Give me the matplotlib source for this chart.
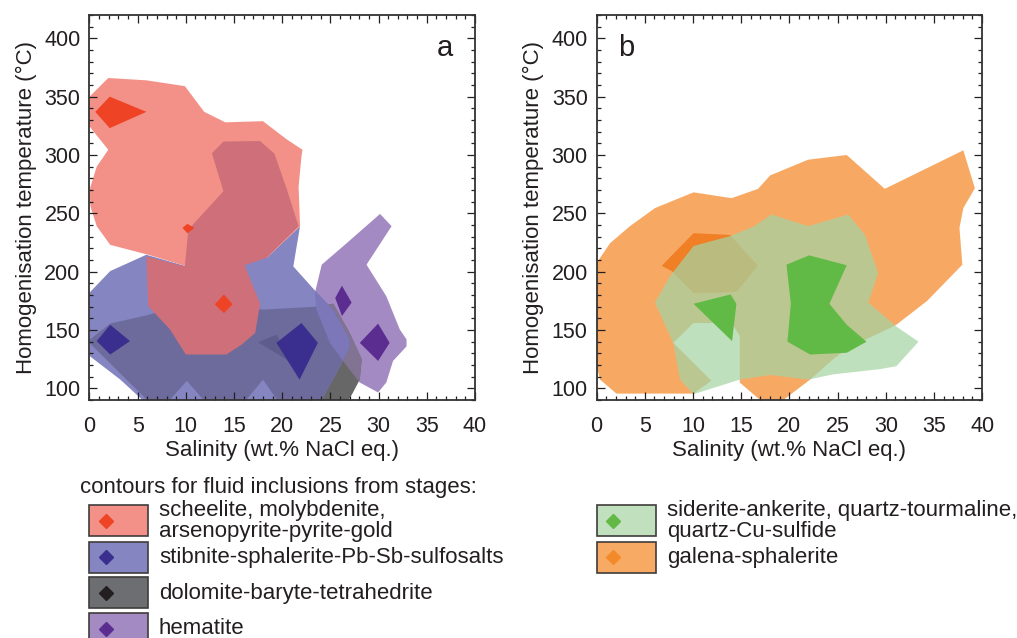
import matplotlib
matplotlib.use('Agg')
import matplotlib.pyplot as plt
from matplotlib.patches import Rectangle
from matplotlib.lines import Line2D

plt.rcParams['font.family'] = ['Liberation Sans', 'DejaVu Sans']

# ---------- panel a : contour polygons (salinity wt.%, temperature degC) ----------
# scheelite, molybdenite, arsenopyrite-pyrite-gold
sch_outer_sal = [0, 1.95, 5.9, 9.9, 11.9, 14.1, 18.0, 20.45, 22.1, 22.0, 21.7, 21.85,
                 18.4, 10.1, 6.1, 2.15, 0.75, 0.1, 0, 0.75, 1.95, 0]
sch_outer_temp = [350, 366, 364, 359, 337, 328, 329, 313.5, 304.5, 299, 273, 239,
                  212, 204.5, 214.5, 223, 239, 256, 270, 290, 304.5, 324.5]
sch_mid_sal = [13.9, 17.7, 19.2, 20.5, 21.7, 18.4, 16.1, 17.7, 17.2, 15.8, 14.2,
               10.0, 8.35, 6.1, 5.9, 9.9, 10.25, 13.9, 12.7]
sch_mid_temp = [311.5, 312, 301, 270, 239, 212, 205.5, 172.5, 147.5, 137.5, 129,
                129, 150.5, 170.5, 213, 204.5, 236, 269, 301.5]
sch_inner_sal = [[0.6, 2.1, 5.9, 2.1], [9.65, 10.15, 10.9, 10.15], [13.0, 13.95, 14.85, 13.95]]
sch_inner_temp = [[337, 350, 337, 323], [237.5, 241, 237.5, 233], [172, 180.5, 172, 164.5]]

# stibnite-sphalerite-Pb-Sb-sulfosalts
stb_outer_sal = [0, 2.15, 5.9, 10.1, 18.4, 21.85, 21.15, 23.6, 25.3, 27.0, 27.0, 26.0,
                 23.9, 5.9, 3.2, 0.05]
stb_outer_temp = [182, 200.5, 214.5, 204.5, 212, 239, 204.5, 182, 167.5, 142, 135, 119,
                  87, 87, 107.5, 127.5]
stb_inner_sal = [[0.75, 2.15, 4.2, 2.15], [19.4, 22.0, 23.7, 21.8]]
stb_inner_temp = [[140.5, 154.5, 140.5, 129], [139, 156, 139, 107.5]]

# dolomite-baryte-tetrahedrite
dol_outer_sal = [0, 2.15, 5.9, 10.1, 14.9, 18.0, 23.6, 25.3, 27.0, 28.25, 28.05, 27.35,
                 26.7, 19.75, 18.0, 15.95, 12.15, 10.1, 8.0, 6.1, 0]
dol_outer_temp = [141.5, 155.5, 162.5, 172, 169, 167.5, 170, 172.5, 147.5, 125, 107.5,
                  96.5, 87, 87, 107.5, 87, 87, 106.5, 87, 89, 139]
dol_inner_sal = [17.5, 19.4, 21.3, 20.4]
dol_inner_temp = [139.5, 146, 118, 125]

# hematite
hem_outer_sal = [24.1, 26.7, 30.15, 31.35, 28.75, 30.8, 32.2, 32.9, 32.9, 31.5, 30.8,
                 29.95, 28.05, 26.7, 24.95, 23.55, 23.4]
hem_outer_temp = [206, 224.5, 249.5, 239, 206, 179, 150.5, 142, 136, 123.5, 105, 96.5,
                  105, 119, 139, 167.5, 182]
hem_inner_sal = [[25.5, 26.2, 27.2, 26.2], [28.05, 29.95, 31.15, 29.95]]
hem_inner_temp = [[177.5, 188, 173.5, 162], [139, 155.5, 139, 123.5]]

# ---------- panel b ----------
# galena-sphalerite
gal_outer_sal = [0, 1.4, 3.45, 6.05, 10.05, 14.0, 16.75, 18.0, 21.95, 25.95, 29.9, 38.05,
                 39.25, 38.05, 37.65, 37.95, 34.3, 31.1, 29.4, 26.3, 24.55, 22.15, 19.2,
                 17.1, 14.85, 14.85, 14.0, 10.05, 7.95, 11.9, 10.05, 2.05, 0.35, 0]
gal_outer_temp = [207.5, 224.5, 239, 254.5, 268, 263, 271, 282.5, 296, 300, 271, 304,
                  271.5, 254.5, 237.5, 206, 175, 154.5, 147.5, 136, 125, 107.5, 89,
                  89, 105, 145, 156, 156, 139, 106.5, 95.5, 95.5, 107.5, 119]
gal_inner_sal = [6.75, 10.05, 13.85, 16.75, 14.5, 10.05, 7.8]
gal_inner_temp = [205, 233, 231.5, 205, 182.5, 181.5, 200.5]

# siderite-ankerite, quartz-tourmaline, quartz-Cu-sulfide
sid_outer_sal = [6.05, 7.6, 10.05, 13.85, 16.25, 18.15, 21.95, 26.1, 27.85, 29.2, 28.2,
                 31.1, 33.4, 31.1, 29.4, 24.55, 21.95, 18.0, 14.85, 10.05, 8.65, 7.95]
sid_outer_temp = [173.5, 196, 222, 230.5, 238.5, 249, 239, 249, 231.5, 199, 173.5,
                  153, 140, 119, 116.5, 112, 107.5, 111.5, 107.5, 95, 107.5, 139]
sid_inner_sal = [[10.05, 13.9, 14.5, 14.05],
                 [19.7, 22.05, 25.95, 24.15, 25.95, 28.0, 25.95, 22.15, 19.8, 20.15]]
sid_inner_temp = [[172.5, 180.5, 172.5, 140.5],
                  [206, 214, 205.5, 172.5, 154.5, 140, 130.5, 129, 140, 172.5]]

legend_a = ['scheelite, molybdenite,\narsenopyrite-pyrite-gold',
            'stibnite-sphalerite-Pb-Sb-sulfosalts',
            'dolomite-baryte-tetrahedrite',
            'hematite']
legend_b = ['siderite-ankerite, quartz-tourmaline,\nquartz-Cu-sulfide',
            'galena-sphalerite']
swatch_a = [('#F39188', '#EE4324'), ('#8485C1', '#3A2E8E'),
            ('#6D6E71', '#231F20'), ('#A48AC3', '#5C2D91')]
swatch_b = [('#C0E0BE', '#62B946'), ('#F7AA64', '#F38A2A')]

ink = '#231F20'
fs = 16
tick_fs = 15.5
W, H = 1017, 638


def style_axes(ax, letter, lx):
    ax.set_xlim(0, 40)
    ax.set_ylim(90, 420)
    ax.set_xticks(range(0, 41, 5))
    ax.set_xticks(range(0, 41), minor=True)
    ax.set_yticks(range(100, 401, 50))
    ax.set_yticks(range(90, 421, 10), minor=True)
    ax.tick_params(which='both', direction='in', top=True, right=True, color=ink,
                   labelsize=tick_fs, labelcolor=ink, width=0.9)
    ax.tick_params(which='major', length=5.5)
    ax.tick_params(which='minor', length=3)
    ax.tick_params(axis='x', which='major', pad=11.5)
    ax.tick_params(axis='y', which='major', pad=6.5)
    for s in ax.spines.values():
        s.set_linewidth(1.3)
        s.set_color('#333333')
    ax.set_xlabel('Salinity (wt.% NaCl eq.)', fontsize=fs, color=ink, labelpad=2)
    ax.set_ylabel('Homogenisation temperature (°C)', fontsize=fs, color=ink, labelpad=5.5)
    ax.text(lx, 392, letter, fontsize=21, color=ink, ha='center', va='center')


def legend_column(x, tops, swatches, labels):
    # key boxes with a diamond, laid out in figure pixels from the top-left corner
    for top, (fill, mark), label in zip(tops, swatches, labels):
        fig.add_artist(Rectangle((x / W, 1 - (top + 31) / H), 59 / W, 31 / H,
                                 transform=fig.transFigure, facecolor=fill,
                                 edgecolor='#403c3c', lw=1.2))
        fig.add_artist(Line2D([(x + 16.5) / W], [1 - (top + 15.5) / H], marker='D',
                              ms=7.5, color=mark, ls='none', transform=fig.transFigure))
        fig.text((x + 70) / W, 1 - (top + 16) / H, label, fontsize=fs, color=ink,
                 va='center', ha='left', linespacing=1.0)


fig = plt.figure(figsize=(W / 100, H / 100), dpi=100)
ax1 = fig.add_axes([0.088, 0.373, 0.379, 0.6035])
ax2 = fig.add_axes([0.5867, 0.373, 0.379, 0.6035])

# ---- panel a ----
hem = ax1.fill(hem_outer_sal, hem_outer_temp, color='#A48AC3', lw=0)[0]
dol = ax1.fill(dol_outer_sal, dol_outer_temp, color='#676767', lw=0)[0]
stb = ax1.fill(stb_outer_sal, stb_outer_temp, color='#8485C1', lw=0)[0]
# overlaps of the stage fields
ov = ax1.fill(hem_outer_sal, hem_outer_temp, color='#817391', lw=0)[0]
ov.set_clip_path(dol)
ov = ax1.fill(dol_outer_sal, dol_outer_temp, color='#6C6B9B', lw=0)[0]
ov.set_clip_path(stb)
ov = ax1.fill(hem_outer_sal, hem_outer_temp, color='#7C77B8', lw=0)[0]
ov.set_clip_path(stb)
ax1.fill(dol_inner_sal, dol_inner_temp, color='#5E5C8C', lw=0)

ax1.fill(sch_outer_sal, sch_outer_temp, color='#F39188', lw=0)
ax1.fill(sch_mid_sal, sch_mid_temp, color='#CF6F7A', lw=0)
for xs, ys in zip(sch_inner_sal, sch_inner_temp):
    ax1.fill(xs, ys, color='#EE4324', lw=0)
for xs, ys in zip(stb_inner_sal, stb_inner_temp):
    ax1.fill(xs, ys, color='#3A2E8E', lw=0)
for xs, ys in zip(hem_inner_sal, hem_inner_temp):
    ax1.fill(xs, ys, color='#5C2D91', lw=0)
style_axes(ax1, 'a', 36.9)

# ---- panel b ----
ax2.fill(gal_outer_sal, gal_outer_temp, color='#F7A964', lw=0)
ax2.fill(gal_inner_sal, gal_inner_temp, color='#F07F25', lw=0)
ax2.fill(sid_outer_sal, sid_outer_temp, color=(0.647, 0.831, 0.639), alpha=0.72, lw=0)
for xs, ys in zip(sid_inner_sal, sid_inner_temp):
    ax2.fill(xs, ys, color='#62BA46', lw=0)
style_axes(ax2, 'b', 3.1)

# ---- keys ----
fig.text(80 / W, 1 - 487 / H, 'contours for fluid inclusions from stages:',
         fontsize=fs, color=ink, va='center', ha='left')
legend_column(89, [505, 541.5, 577, 613], swatch_a, legend_a)
legend_column(596.7, [505, 541.5], swatch_b, legend_b)

fig.savefig('out.png', dpi=100)
